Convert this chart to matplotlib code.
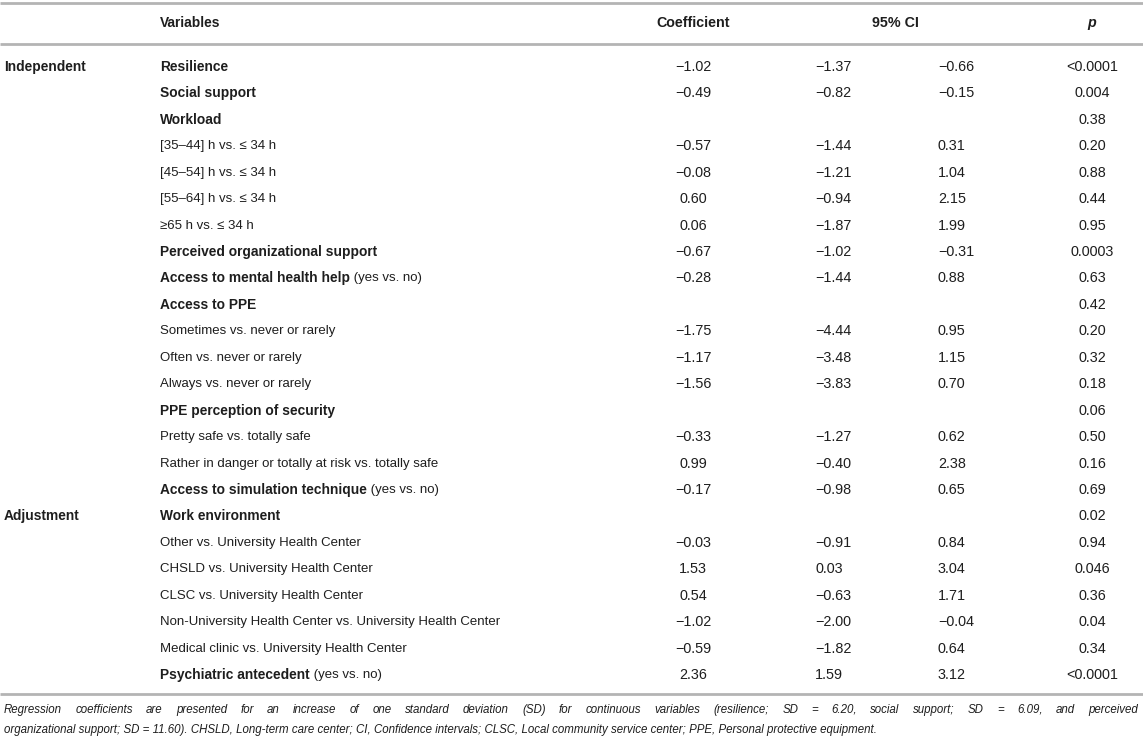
import matplotlib
matplotlib.use("Agg")
import matplotlib.pyplot as plt

plt.rcParams['font.family'] = ['Liberation Sans', 'DejaVu Sans']

# ---------------- data ----------------
headers = ["Variables", "Coefficient", "95% CI", "p"]
groups = {0: "Independent", 17: "Adjustment"}
var_bold = ["Resilience", "Social support", "Workload", "", "", "", "",
            "Perceived organizational support", "Access to mental health help",
            "Access to PPE", "", "", "", "PPE perception of security", "", "",
            "Access to simulation technique", "Work environment", "", "", "", "", "",
            "Psychiatric antecedent"]
var_regular = ["", "", "",
               "[35\u201344] h vs. \u2264 34 h", "[45\u201354] h vs. \u2264 34 h",
               "[55\u201364] h vs. \u2264 34 h", "\u226565 h vs. \u2264 34 h",
               "", " (yes vs. no)", "",
               "Sometimes vs. never or rarely", "Often vs. never or rarely",
               "Always vs. never or rarely", "",
               "Pretty safe vs. totally safe",
               "Rather in danger or totally at risk vs. totally safe",
               " (yes vs. no)", "",
               "Other vs. University Health Center", "CHSLD vs. University Health Center",
               "CLSC vs. University Health Center",
               "Non-University Health Center vs. University Health Center",
               "Medical clinic vs. University Health Center", " (yes vs. no)"]
coef = ["\u22121.02", "\u22120.49", "", "\u22120.57", "\u22120.08", "0.60", "0.06",
        "\u22120.67", "\u22120.28", "", "\u22121.75", "\u22121.17", "\u22121.56", "",
        "\u22120.33", "0.99", "\u22120.17", "", "\u22120.03", "1.53", "0.54",
        "\u22121.02", "\u22120.59", "2.36"]
ci_low = ["\u22121.37", "\u22120.82", "", "\u22121.44", "\u22121.21", "\u22120.94", "\u22121.87",
          "\u22121.02", "\u22121.44", "", "\u22124.44", "\u22123.48", "\u22123.83", "",
          "\u22121.27", "\u22120.40", "\u22120.98", "", "\u22120.91", "0.03", "\u22120.63",
          "\u22122.00", "\u22121.82", "1.59"]
ci_high = ["\u22120.66", "\u22120.15", "", "0.31", "1.04", "2.15", "1.99",
           "\u22120.31", "0.88", "", "0.95", "1.15", "0.70", "",
           "0.62", "2.38", "0.65", "", "0.84", "3.04", "1.71",
           "\u22120.04", "0.64", "3.12"]
p_values = ["<0.0001", "0.004", "0.38", "0.20", "0.88", "0.44", "0.95",
            "0.0003", "0.63", "0.42", "0.20", "0.32", "0.18", "0.06",
            "0.50", "0.16", "0.69", "0.02", "0.94", "0.046", "0.36",
            "0.04", "0.34", "<0.0001"]
footnote_line1 = ("Regression coefficients are presented for an increase of one standard deviation (SD) "
                  "for continuous variables (resilience; SD = 6.20, social support; SD = 6.09, and perceived")
footnote_line2 = ("organizational support; SD = 11.60). CHSLD, Long-term care center; CI, Confidence "
                  "intervals; CLSC, Local community service center; PPE, Personal protective equipment.")

# ---------------- layout ----------------
W, H = 1143, 743
fig = plt.figure(figsize=(W / 100, H / 100), dpi=100)
ax = fig.add_axes([0, 0, 1, 1])
ax.set_xlim(0, W)
ax.set_ylim(H, 0)
ax.axis("off")
fig.canvas.draw()
renderer = fig.canvas.get_renderer()

TXT = "#1e1e1e"
LINE = "#b4b4b4"
FS_REG = 9.5
FS_BOLD = 9.9
FS_NUM = 10.4

x_group = 4
x_var = 160
x_coef = 693
x_cilo = 815
x_cihi = 938
x_p = 1092
y_head = 23
y0 = 67
dy = (675 - 67) / 23

for yl in (3, 44, 694):
    ax.plot([0, W], [yl, yl], color=LINE, lw=2.0, solid_capstyle="butt")

ax.text(x_var, y_head, headers[0], fontsize=FS_BOLD, fontweight="bold", color=TXT, va="center")
ax.text(x_coef, y_head, headers[1], fontsize=FS_BOLD + 0.4, fontweight="bold", color=TXT,
        va="center", ha="center")
ax.text(895, y_head, headers[2], fontsize=FS_BOLD + 0.4, fontweight="bold", color=TXT,
        va="center", ha="center")
ax.text(x_p, y_head, headers[3], fontsize=FS_BOLD + 0.4, fontweight="bold", style="italic",
        color=TXT, va="center", ha="center")


def px_width(t):
    bb = t.get_window_extent(renderer=renderer)
    return bb.width


for i in range(len(coef)):
    y = y0 + i * dy
    if i in groups:
        ax.text(x_group, y, groups[i], fontsize=FS_BOLD, fontweight="bold", color=TXT, va="center")
    x = x_var
    if var_bold[i]:
        t = ax.text(x, y, var_bold[i], fontsize=FS_BOLD, fontweight="bold", color=TXT, va="center")
        x += px_width(t)
    if var_regular[i]:
        ax.text(x, y, var_regular[i], fontsize=FS_REG, color=TXT, va="center")
    if coef[i]:
        ax.text(x_coef, y, coef[i], fontsize=FS_NUM, color=TXT, va="center", ha="center")
    if ci_low[i]:
        ax.text(x_cilo, y, ci_low[i], fontsize=FS_NUM, color=TXT, va="center", ha="left")
    if ci_high[i]:
        ax.text(x_cihi, y, ci_high[i], fontsize=FS_NUM, color=TXT, va="center", ha="left")
    if p_values[i]:
        ax.text(x_p, y, p_values[i], fontsize=FS_NUM, color=TXT, va="center", ha="center")

# footnote: size from line 2 extent, line 1 justified to full width
probe = ax.text(0, 0, footnote_line2, fontsize=10, style="italic")
w2 = px_width(probe)
probe.remove()
fs_foot = 10 * 880 / w2
ax.text(4, 730, footnote_line2, fontsize=fs_foot, style="italic", color=TXT, va="center")

words = footnote_line1.split(" ")
wt = []
for wd in words:
    t = ax.text(0, 0, wd, fontsize=fs_foot, style="italic")
    wt.append(px_width(t))
    t.remove()
gap = (1138 - 4 - sum(wt)) / (len(words) - 1)
x = 4
for wd, w in zip(words, wt):
    ax.text(x, 710, wd, fontsize=fs_foot, style="italic", color=TXT, va="center")
    x += w + gap

fig.savefig("out.png", dpi=100)
